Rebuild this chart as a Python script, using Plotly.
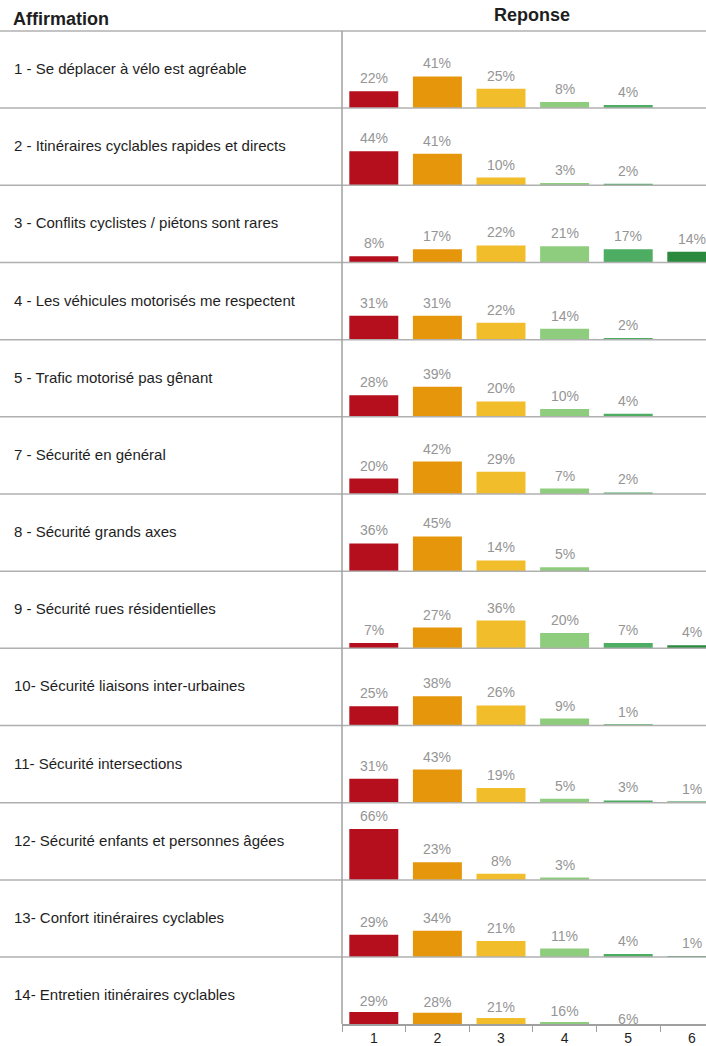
import plotly.graph_objects as go

# ---- data ----
statements = [
    "1 - Se déplacer à vélo est agréable",
    "2 - Itinéraires cyclables rapides et directs",
    "3 - Conflits cyclistes / piétons sont rares",
    "4 - Les véhicules motorisés me respectent",
    "5 - Trafic motorisé pas gênant",
    "7 - Sécurité en général",
    "8 - Sécurité grands axes",
    "9 - Sécurité rues résidentielles",
    "10- Sécurité liaisons inter-urbaines",
    "11- Sécurité intersections",
    "12- Sécurité enfants et personnes âgées",
    "13- Confort itinéraires cyclables",
    "14- Entretien itinéraires cyclables",
]
responses = [1, 2, 3, 4, 5, 6]
tick_labels = ["1", "2", "3", "4", "5", "6"]
r1 = [22, 41, 25, 8, 4, None]
r2 = [44, 41, 10, 3, 2, None]
r3 = [8, 17, 22, 21, 17, 14]
r4 = [31, 31, 22, 14, 2, None]
r5 = [28, 39, 20, 10, 4, None]
r7 = [20, 42, 29, 7, 2, None]
r8 = [36, 45, 14, 5, None, None]
r9 = [7, 27, 36, 20, 7, 4]
r10 = [25, 38, 26, 9, 1, None]
r11 = [31, 43, 19, 5, 3, 1]
r12 = [66, 23, 8, 3, None, None]
r13 = [29, 34, 21, 11, 4, 1]
r14 = [29, 28, 21, 16, 6, None]
rows = [r1, r2, r3, r4, r5, r7, r8, r9, r10, r11, r12, r13, r14]

colors = ["#b50f1d", "#e5960b", "#f1bd2b", "#8fcd7e", "#4dad62", "#2b8a3e"]

FONT = "Liberation Sans, Arial, sans-serif"
LABEL_FONT = dict(color="#959595", size=14, family=FONT)

# ---- layout geometry (pixels) ----
W, H = 706, 1046
BOTTOM_MARGIN = 20
PLOT_BOTTOM = H - BOTTOM_MARGIN      # pixel of x axis line
TOP = 31                             # header separator
ROW_H = 77.33
X_LEFT = 342
PX_PER_PCT = ROW_H / 100.0


def py(p):
    """pixel y -> paper y"""
    return (PLOT_BOTTOM - p) / PLOT_BOTTOM


fig = go.Figure()
layout_axes = {}
shapes = []
annotations = []
for i, vals in enumerate(rows):
    top = TOP + i * ROW_H
    bottom = top + ROW_H
    lo = 0
    last = bottom > PLOT_BOTTOM
    if last:
        lo = (bottom - PLOT_BOTTOM) / PX_PER_PCT
        bottom = PLOT_BOTTOM
    name = "yaxis" if i == 0 else f"yaxis{i + 1}"
    ref = "y" if i == 0 else f"y{i + 1}"
    layout_axes[name] = dict(
        domain=[py(bottom), py(top)],
        range=[lo, 100],
        visible=False,
        fixedrange=True,
    )
    texts = [f"{v}%" if v is not None else "" for v in vals]
    fig.add_trace(go.Bar(
        x=responses,
        y=vals,
        xaxis="x",
        yaxis=ref,
        marker=dict(color=colors, line=dict(width=0)),
        text=texts if last else None,
        textposition="outside" if last else "none",
        constraintext="none",
        cliponaxis=True,
        textfont=LABEL_FONT,
        showlegend=False,
        hoverinfo="skip",
    ))
    if not last:
        for xv, v, t in zip(responses, vals, texts):
            if v is None:
                continue
            annotations.append(dict(
                text=t, x=xv, y=v, xref="x", yref=ref,
                xanchor="center", yanchor="bottom", yshift=3,
                showarrow=False, font=LABEL_FONT,
            ))
    # row separator on top
    shapes.append(dict(type="line", xref="paper", yref="paper",
                       x0=0, x1=1, y0=py(top), y1=py(top),
                       line=dict(color="#b0b0b0", width=1.5)))
    annotations.append(dict(
        text=statements[i], xref="paper", yref="paper",
        x=12 / W, y=py(TOP + i * ROW_H + ROW_H / 2 - 1),
        xanchor="left", yanchor="middle", showarrow=False,
        font=dict(size=15, color="#1e1e1e", family=FONT),
    ))

# vertical separator
shapes.append(dict(type="line", xref="paper", yref="paper",
                   x0=X_LEFT / W, x1=X_LEFT / W, y0=py(TOP), y1=0,
                   line=dict(color="#a0a0a0", width=1.5)))

annotations.append(dict(text="<b>Affirmation</b>", xref="paper", yref="paper",
                        x=11 / W, y=py(19), xanchor="left", yanchor="middle",
                        showarrow=False,
                        font=dict(size=18, color="#1e1e1e", family=FONT)))
annotations.append(dict(text="<b>Reponse</b>", xref="paper", yref="paper",
                        x=532 / W, y=py(15), xanchor="center", yanchor="middle",
                        showarrow=False,
                        font=dict(size=18, color="#1e1e1e", family=FONT)))

x_span = (W - X_LEFT) / 63.6
fig.update_layout(
    width=W, height=H,
    margin=dict(l=0, r=0, t=0, b=BOTTOM_MARGIN),
    paper_bgcolor="white", plot_bgcolor="white",
    bargap=0.23,
    xaxis=dict(
        domain=[X_LEFT / W, 1],
        range=[0.5, 0.5 + x_span],
        anchor="y13",
        tickmode="array", tickvals=responses, ticktext=tick_labels,
        ticks="", showgrid=False, zeroline=False,
        showline=True, linecolor="#a0a0a0", linewidth=1.5,
        tickfont=dict(size=14, color="#1e1e1e", family=FONT),
        minor=dict(tick0=0.5, dtick=1, ticks="outside", ticklen=6,
                   tickcolor="#a0a0a0", tickwidth=1, showgrid=False),
        fixedrange=True,
    ),
    shapes=shapes,
    annotations=annotations,
    **layout_axes,
)

fig.write_html(
    "out.html",
    config={"displayModeBar": False},
    post_script="document.body.style.margin='0';document.body.style.overflow='hidden';",
)
